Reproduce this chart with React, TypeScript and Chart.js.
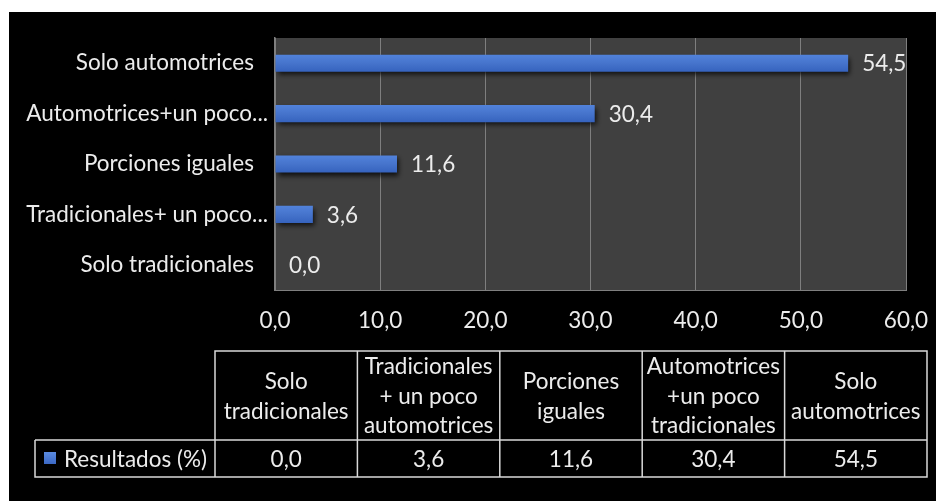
import React, { useEffect, useRef } from "react";
import { Chart, registerables } from "chart.js";

Chart.register(...registerables);

const categories = [
  "Solo tradicionales",
  "Tradicionales+ un poco automotrices",
  "Porciones iguales",
  "Automotrices+un poco tradicionales",
  "Solo automotrices",
];
const axisLabels = [
  "Solo tradicionales",
  "Tradicionales+ un poco...",
  "Porciones iguales",
  "Automotrices+un poco...",
  "Solo automotrices",
];
const tableHeaders = [
  ["Solo", "tradicionales"],
  ["Tradicionales", "+ un poco", "automotrices"],
  ["Porciones", "iguales"],
  ["Automotrices", "+un poco", "tradicionales"],
  ["Solo", "automotrices"],
];
const seriesName = "Resultados (%)";
const resultados = [0.0, 3.6, 11.6, 30.4, 54.5];
const xTicks = [0, 10, 20, 30, 40, 50, 60];

const FONT = "Lato, 'Open Sans', sans-serif";
const FONT_SIZE = 22.5;
const TEXT = "#ececec";
const fmt = (v: number) => v.toFixed(1).replace(".", ",");

export default function App() {
  const ref = useRef<HTMLCanvasElement | null>(null);

  useEffect(() => {
    if (!ref.current) return;

    const decor = {
      id: "decor",
      beforeDraw(chart: any) {
        const { ctx, chartArea } = chart;
        ctx.save();
        ctx.fillStyle = "#404040";
        ctx.fillRect(chartArea.left, chartArea.top, chartArea.right - chartArea.left, chartArea.bottom - chartArea.top);
        ctx.restore();
      },
      beforeDatasetsDraw(chart: any) {
        const ctx = chart.ctx;
        ctx.save();
        ctx.shadowColor = "rgba(0,0,0,0.75)";
        ctx.shadowBlur = 5;
        ctx.shadowOffsetX = 2;
        ctx.shadowOffsetY = 3;
      },
      afterDatasetsDraw(chart: any) {
        const ctx = chart.ctx;
        ctx.restore();
        const meta = chart.getDatasetMeta(0);
        ctx.save();
        ctx.font = `${FONT_SIZE}px ${FONT}`;
        ctx.fillStyle = TEXT;
        ctx.textAlign = "left";
        ctx.textBaseline = "middle";
        meta.data.forEach((el: any, i: number) => {
          ctx.fillText(fmt(resultados[i]), el.x + 14, el.y + 1);
        });
        ctx.restore();
      },
      afterDraw(chart: any) {
        const ctx = chart.ctx;
        const W = chart.width;
        const tableLeft = 206;
        const tableRight = W - 17;
        const legendLeft = 26;
        const top = 339;
        const mid = 428;
        const bottom = 465;
        const colW = (tableRight - tableLeft) / categories.length;
        ctx.save();
        ctx.strokeStyle = "#d9d9d9";
        ctx.lineWidth = 1.5;
        ctx.beginPath();
        ctx.rect(tableLeft, top, tableRight - tableLeft, bottom - top);
        ctx.moveTo(legendLeft, mid);
        ctx.lineTo(tableRight, mid);
        ctx.moveTo(legendLeft, mid);
        ctx.lineTo(legendLeft, bottom);
        ctx.lineTo(tableLeft, bottom);
        for (let i = 1; i < categories.length; i++) {
          const x = tableLeft + colW * i;
          ctx.moveTo(x, top);
          ctx.lineTo(x, bottom);
        }
        ctx.stroke();

        ctx.font = `${FONT_SIZE}px ${FONT}`;
        ctx.fillStyle = TEXT;
        ctx.textAlign = "center";
        ctx.textBaseline = "middle";
        const lh = 29.5;
        const hc = (top + mid) / 2;
        const dc = (mid + bottom) / 2;
        tableHeaders.forEach((lines, i) => {
          const cx = tableLeft + colW * (i + 0.5);
          const start = hc - ((lines.length - 1) * lh) / 2;
          lines.forEach((ln, j) => ctx.fillText(ln, cx, start + j * lh + 1));
          ctx.fillText(fmt(resultados[i]), cx, dc + 1);
        });
        const grad = ctx.createLinearGradient(0, dc - 6, 0, dc + 6);
        grad.addColorStop(0, "#5a8ae0");
        grad.addColorStop(1, "#3a67c4");
        ctx.fillStyle = grad;
        ctx.fillRect(35, dc - 6.5, 12, 12);
        ctx.fillStyle = TEXT;
        ctx.textAlign = "left";
        ctx.fillText(seriesName, 55, dc + 1);
        ctx.restore();
      },
    };

    const chart = new Chart(ref.current, {
      type: "bar",
      data: {
        labels: categories,
        datasets: [
          {
            label: seriesName,
            data: resultados,
            backgroundColor: (c: any) => {
              const ch = c.chart;
              const ys = ch.scales && ch.scales.y;
              if (!ch.chartArea || !ys) return "#4472C4";
              const y = ys.getPixelForValue(c.dataIndex);
              const g = ch.ctx.createLinearGradient(0, y - 9, 0, y + 9);
              g.addColorStop(0, "#5283dc");
              g.addColorStop(0.5, "#4674cc");
              g.addColorStop(1, "#3562bd");
              return g;
            },
            borderWidth: 0,
            barPercentage: 0.34,
            categoryPercentage: 1,
          },
        ],
      },
      options: {
        indexAxis: "y",
        animation: false,
        responsive: false,
        maintainAspectRatio: false,
        layout: { padding: { top: 26, right: 38, left: 0, bottom: 0 } },
        plugins: {
          legend: { display: false },
          tooltip: { enabled: false },
        },
        scales: {
          x: {
            type: "linear",
            min: 0,
            max: 60,
            afterFit: (s: any) => {
              s.height = 211;
              s.paddingLeft = 0;
              s.paddingRight = 0;
            },
            afterBuildTicks: (s: any) => {
              s.ticks = xTicks.map((v) => ({ value: v }));
            },
            ticks: {
              color: TEXT,
              font: { family: FONT, size: FONT_SIZE },
              padding: 17,
              callback: (v: any) => fmt(Number(v)),
            },
            grid: { color: "#7f7f7f", lineWidth: 1, drawTicks: false },
            border: { display: true, color: "#7f7f7f", width: 1 },
          },
          y: {
            type: "category",
            reverse: true,
            afterFit: (s: any) => {
              s.width = 266;
              s.paddingTop = 0;
              s.paddingBottom = 0;
            },
            ticks: {
              color: TEXT,
              font: { family: FONT, size: FONT_SIZE },
              padding: 7,
              callback: (_v: any, i: number) => {
                const t = axisLabels[i];
                return t.endsWith("...") ? t : t + "\u2002\u2009";
              },
            },
            grid: { display: false, drawTicks: false },
            border: { display: true, color: "#7f7f7f", width: 1.5 },
          },
        },
      },
      plugins: [decor],
    } as any);

    return () => chart.destroy();
  }, []);

  return (
    <div style={{ marginLeft: 1, marginTop: 4, width: 935, height: 489 }}>
      <canvas ref={ref} width={935} height={489} style={{ display: "block", background: "#000" }} />
    </div>
  );
}
